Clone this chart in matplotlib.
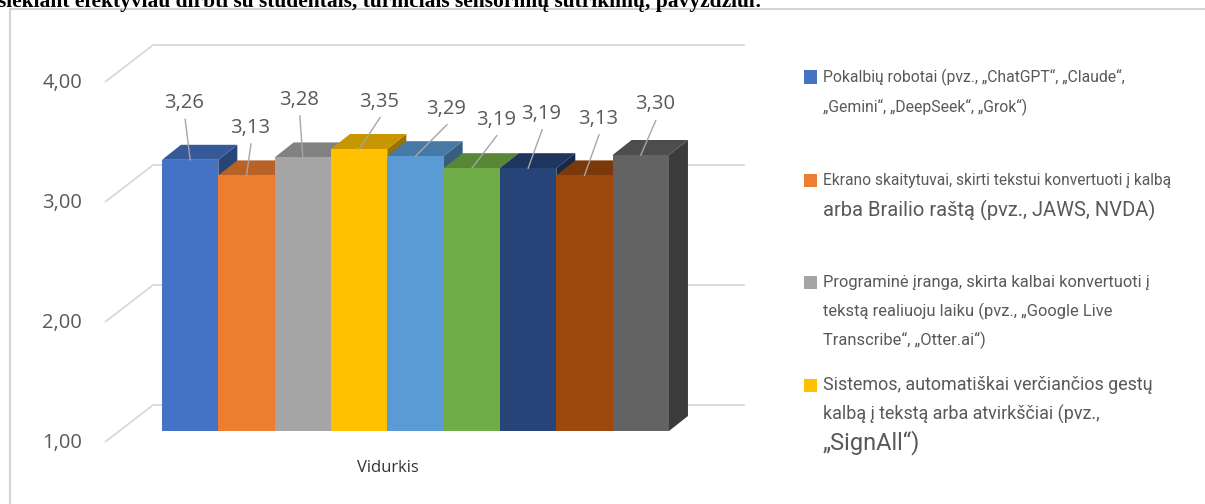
import numpy as np
import matplotlib
matplotlib.use("Agg")
import matplotlib.pyplot as plt
from matplotlib.patches import Polygon, Rectangle
from matplotlib.colors import to_rgb

# average scores, one bar per tool type
values = [3.26, 3.13, 3.28, 3.35, 3.29, 3.19, 3.19, 3.13, 3.30]
labels = ["3,26", "3,13", "3,28", "3,35", "3,29", "3,19", "3,19", "3,13", "3,30"]
colors = ["#4472C4", "#ED7D31", "#A5A5A5", "#FFC000", "#5B9BD5",
          "#70AD47", "#264478", "#9E480E", "#636363"]
yticks = [1, 2, 3, 4]
ytick_labels = ["1,00", "2,00", "3,00", "4,00"]
category = "Vidurkis"
title = "siekiant efektyviau dirbti su studentais, turinčiais sensorinių sutrikimų, pavyzdžiui:"

legend_items = [
    ("#4472C4", [("Pokalbių robotai (pvz., „ChatGPT“, „Claude“,", 11.3),
                 ("„Gemini“, „DeepSeek“, „Grok“)", 11.3)]),
    ("#ED7D31", [("Ekrano skaitytuvai, skirti tekstui konvertuoti į kalbą", 11.2),
                 ("arba Brailio raštą (pvz., JAWS, NVDA)", 14.5)]),
    ("#A5A5A5", [("Programinė įranga, skirta kalbai konvertuoti į", 11.9),
                 ("tekstą realiuoju laiku (pvz., „Google Live", 11.9),
                 ("Transcribe“, „Otter.ai“)", 11.9)]),
    ("#FFC000", [("Sistemos, automatiškai verčiančios gestų", 12.9),
                 ("kalbą į tekstą arba atvirkščiai (pvz.,", 12.9),
                 ("„SignAll“)", 17)]),
]
legend_y = [77, 180, 282, 385]     # first line centre, px from top
line_step = [30, 30, 29, 29]

# label offsets from bar top centre, in px (right, up)
label_off = [(-6, 58), (3.5, 49), (-4, 59), (20, 49), (30.5, 49),
             (24, 50), (13, 56), (13.5, 58), (14, 52)]

W, H = 1205, 504
PX = 56.33        # px per bar
PY = 120.0        # px per unit of value
X0 = 162.0        # left edge of first bar, px
Y3 = 191.0        # value 3 at bar front, px from top

fig = plt.figure(figsize=(W / 100, H / 100), dpi=100)
ax = fig.add_axes([0, 0, 1, 1])
ax.set_xlim(-X0 / PX, (W - X0) / PX)
ax.set_ylim(3 - (H - Y3) / PY, 3 + Y3 / PY)
ax.axis("off")

font = "Open Sans"
txt_col = "#595959"

# depth offsets in data units
ddx, ddy = 19 / PX, 15 / PY                  # bar depth
fx, fy = -14.5 / PX, -11 / PY                # front of the walls
bx, by = 33.5 / PX, 26 / PY                  # back wall
xl, xr = -0.754, len(values) + 0.754

# gridlines on the back wall with the diagonal onto the side
for v in yticks:
    ax.plot([xl + fx, xl + bx, xr + bx], [v + fy, v + by, v + by],
            color="#d9d9d9", lw=1.3, zorder=1, solid_capstyle="butt")

for v, lab in zip(yticks, ytick_labels):
    ax.text(xl + fx - 23 / PX, v + fy - 1 / PY, lab, ha="right", va="center",
            fontsize=14.5, color=txt_col, family=font)


def shade(c, k):
    return tuple(np.array(to_rgb(c)) * k)


base = yticks[0]
xs = np.arange(len(values))
ax.bar(xs, np.array(values) - base, bottom=base, width=1.0, align="edge",
       color=colors, linewidth=0, zorder=2)

for i, (v, c) in enumerate(zip(values, colors)):
    z = 2 + i * 0.1
    ax.add_patch(Rectangle((i, base), 1, v - base, color=c, lw=0, zorder=z + 0.05))
    top = [(i, v), (i + 1, v), (i + 1 + ddx, v + ddy), (i + ddx, v + ddy)]
    side = [(i + 1, base), (i + 1, v), (i + 1 + ddx, v + ddy), (i + 1 + ddx, base + ddy)]
    ax.add_patch(Polygon(side, closed=True, color=shade(c, 0.6), lw=0, zorder=z))
    ax.add_patch(Polygon(top, closed=True, color=shade(c, 0.78), lw=0, zorder=z))

# data labels with leader lines
for i, (v, lab, (ox, oy)) in enumerate(zip(values, labels, label_off)):
    cx, cy = i + 0.5, v
    tx, ty = cx + ox / PX, cy + (oy - 1.5) / PY
    ax.text(tx, ty, lab, ha="center", va="center", fontsize=14.5,
            color=txt_col, family=font, zorder=5)
    ax.plot([tx + 1 / PX, cx], [ty - 16 / PY, cy], color="#a6a6a6",
            lw=1, zorder=6)

ax.text((388 - X0) / PX, 3 - (468 - Y3) / PY, category, ha="center",
        va="center", fontsize=12, color="#333333", family=font)

# legend on the right
for (c, lines), y0, step in zip(legend_items, legend_y, line_step):
    fig.add_artist(Rectangle((804 / W, 1 - (y0 + 6.5) / H), 13 / W, 13 / H,
                             transform=fig.transFigure, color=c, lw=0))
    for k, (s, fs) in enumerate(lines):
        fig.text(823 / W, 1 - (y0 + k * step) / H, s, ha="left", va="center",
                 fontsize=fs, color=txt_col, family="Roboto")

# chart frame and the heading above it
fig.add_artist(Rectangle((10 / W, -0.1), 1.1, 1.1 - 9 / H,
                         transform=fig.transFigure, fill=False,
                         edgecolor="#d4d4d4", lw=1.5))
fig.text(-2 / W, 1 - 7 / H, title, ha="left", va="baseline", fontsize=15.5,
         fontweight="bold", family="Liberation Serif", color="black")

fig.savefig("out.png", dpi=100)
